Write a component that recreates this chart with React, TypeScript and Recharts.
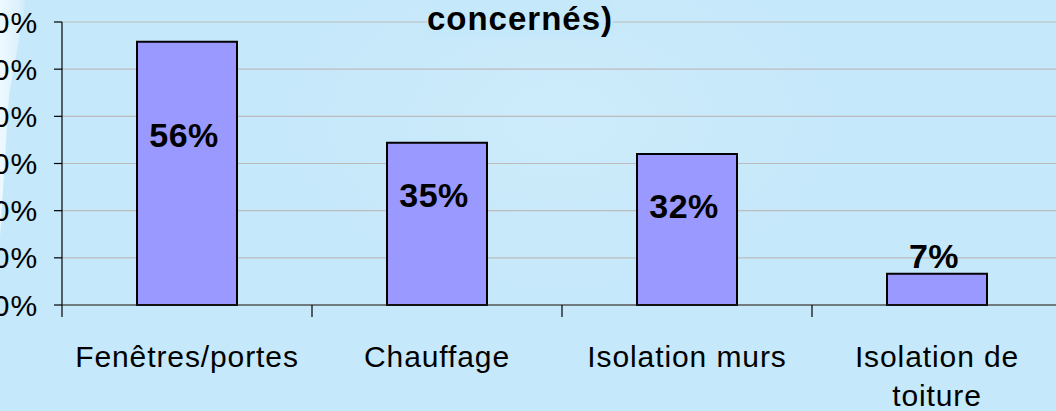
import { Bar, BarChart, CartesianGrid, LabelList, XAxis, YAxis } from 'recharts'

const categories = ['Fenêtres/portes', 'Chauffage', 'Isolation murs', 'Isolation de toiture']
const shares = [55.8, 34.4, 32.0, 6.6]
const shareLabels = ['56%', '35%', '32%', '7%']
const yTicks = [0, 10, 20, 30, 40, 50, 60]
const titleText = 'concernés)'

const CHART_W = 1062
const CHART_H = 411
const Y_AXIS_W = 62
const PLOT_W = CHART_W - Y_AXIS_W
const FONT = 'Arial, "Liberation Sans", sans-serif'

// where each value label sits, measured from the bar top (baseline)
const labelOffsets = [105, 64, 64, -6]

const data = categories.map((name, i) => ({ name, value: shares[i] }))

function wrapWords(label: string, maxChars = 16) {
  const lines: string[] = []
  let cur = ''
  for (const w of label.split(' ')) {
    const next = cur ? `${cur} ${w}` : w
    if (next.length > maxChars && cur) {
      lines.push(cur)
      cur = w
    } else {
      cur = next
    }
  }
  if (cur) lines.push(cur)
  return lines
}

function CategoryTick(props: any) {
  const { x, y, payload } = props
  const band = PLOT_W / categories.length
  const left = x - band / 2
  const lines = wrapWords(String(payload.value))
  return (
    <g>
      <line x1={left} x2={left} y1={y} y2={y + 12} stroke="#000" strokeWidth={1.2} />
      <text
        x={x}
        y={y + 62}
        textAnchor="middle"
        fontSize={30}
        letterSpacing={0.9}
        fill="#000"
        fontFamily={FONT}
      >
        {lines.map((l, i) => (
          <tspan key={i} x={x} dy={i === 0 ? 0 : 39}>
            {l}
          </tspan>
        ))}
      </text>
    </g>
  )
}

function ShareLabel(props: any) {
  const { x, y, width, index } = props
  return (
    <text
      x={Number(x) + Number(width) / 2 - 3}
      y={Number(y) + labelOffsets[index]}
      textAnchor="middle"
      fontSize={34}
      fontWeight="bold"
      letterSpacing={0.5}
      fill="#000"
      fontFamily={FONT}
    >
      {shareLabels[index]}
    </text>
  )
}

export default function App() {
  return (
    <div
      style={{
        position: 'absolute',
        left: 0,
        top: 0,
        width: 1056,
        height: 411,
        overflow: 'hidden',
        fontFamily: FONT,
        background:
          'radial-gradient(ellipse 420px 260px at 560px 120px, rgba(255,255,255,0.14), rgba(255,255,255,0) 70%), #c5e8fa',
      }}
    >
      <div
        style={{
          position: 'absolute',
          left: 0,
          top: 0,
          width: 26,
          height: 250,
          clipPath: 'polygon(0 0, 100% 0, 35% 38%, 0 95%)',
          background: 'linear-gradient(90deg, #eef9ff 0%, #dcf1fc 70%, #cbeafb 100%)',
        }}
      />
      <div style={{ position: 'absolute', left: 0, top: 0 }}>
        <BarChart
          width={CHART_W}
          height={CHART_H}
          data={data}
          margin={{ top: 22, right: 0, bottom: 0, left: 0 }}
          barCategoryGap="30%"
        >
          <CartesianGrid vertical={false} stroke="#bcbcbc" strokeWidth={1.2} />
          <YAxis
            type="number"
            domain={[0, 60]}
            ticks={yTicks}
            interval={0}
            width={Y_AXIS_W}
            tickFormatter={(v: number) => `${v}%`}
            tickSize={8}
            tickMargin={16}
            axisLine={{ stroke: '#000', strokeWidth: 1.2 }}
            tickLine={{ stroke: '#000', strokeWidth: 1.2 }}
            tick={{ fontSize: 30, fill: '#000', letterSpacing: 0.9, fontFamily: FONT }}
          />
          <XAxis
            dataKey="name"
            height={CHART_H - 22 - 283}
            interval={0}
            tickLine={false}
            tickSize={0}
            tickMargin={0}
            axisLine={{ stroke: '#222', strokeWidth: 1.2 }}
            tick={<CategoryTick />}
          />
          <Bar dataKey="value" fill="#9999ff" stroke="#000" strokeWidth={2} isAnimationActive={false}>
            <LabelList dataKey="value" content={<ShareLabel />} />
          </Bar>
        </BarChart>
      </div>
      <div
        style={{
          position: 'absolute',
          left: 0,
          top: 3,
          width: 1040,
          textAlign: 'center',
          fontSize: 33,
          lineHeight: '32px',
          fontWeight: 'bold',
          letterSpacing: 1,
          color: '#000',
        }}
      >
        <span style={{ background: '#c5e8fa' }}>{titleText}</span>
      </div>
    </div>
  )
}
